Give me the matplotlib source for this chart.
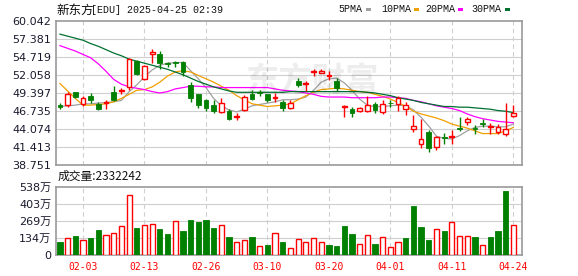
import matplotlib
matplotlib.use("Agg")
import matplotlib.pyplot as plt
from matplotlib.patches import Rectangle
import numpy as np

# ---------------- data ----------------
dates = ["01-29", "01-30", "01-31",
         "02-03", "02-04", "02-05", "02-06", "02-07", "02-10", "02-11", "02-12", "02-13", "02-14",
         "02-18", "02-19", "02-20", "02-21", "02-24", "02-25", "02-26", "02-27", "02-28",
         "03-03", "03-04", "03-05", "03-06", "03-07", "03-10", "03-11", "03-12", "03-13", "03-14",
         "03-17", "03-18", "03-19", "03-20", "03-21", "03-24", "03-25", "03-26", "03-27", "03-28", "03-31",
         "04-01", "04-02", "04-03", "04-04", "04-07", "04-08", "04-09", "04-10", "04-11",
         "04-14", "04-15", "04-16", "04-17", "04-21", "04-22", "04-23", "04-24"]
tick_labels = ["02-03", "02-13", "02-26", "03-10", "03-20", "04-01", "04-11", "04-24"]

opens = [47.6, 47.6, 49.5, 47.8, 48.9, 47.8, 47.9, 49.5, 49.7, 50.3,
         54.2, 51.4, 55.2, 55.2, 53.85, 53.95, 54.0, 50.6, 49.2, 48.3,
         47.6, 46.6, 46.8, 45.9, 46.9, 49.3, 49.5, 49.2, 48.7, 48.0,
         47.2, 51.1, 50.7, 52.5, 52.35, 51.9, 51.1, 47.3, 47.1, 46.7,
         46.7, 47.7, 46.6, 47.95, 47.8, 47.0, 44.0, 41.9, 43.7, 41.4,
         42.85, 42.95, 44.2, 45.1, 44.15, 44.95, 44.3, 43.6, 43.4, 46.0]
highs = [47.9, 49.6, 49.6, 49.0, 49.4, 48.1, 48.3, 50.5, 50.2, 54.6,
         54.3, 53.5, 55.9, 55.6, 54.0, 54.1, 54.1, 51.0, 49.2, 48.5,
         48.3, 48.6, 47.1, 46.4, 49.1, 49.8, 49.9, 49.2, 49.4, 48.4,
         48.3, 51.6, 51.2, 53.0, 52.9, 52.7, 51.6, 47.55, 47.3, 47.4,
         48.9, 48.0, 48.3, 48.4, 48.9, 48.0, 46.1, 45.5, 43.9, 43.1,
         43.5, 43.9, 45.9, 45.9, 44.7, 45.5, 45.0, 44.8, 47.9, 47.6]
lows = [47.0, 47.4, 48.6, 47.5, 47.9, 46.9, 47.0, 48.2, 49.3, 49.8,
        52.0, 51.3, 53.8, 52.9, 53.2, 53.2, 51.9, 48.1, 47.2, 46.8,
        46.5, 46.4, 45.4, 45.4, 46.7, 48.4, 48.9, 48.1, 48.0, 46.8,
        47.1, 50.3, 49.7, 51.9, 52.3, 51.3, 49.7, 45.8, 45.9, 46.6,
        46.6, 46.4, 46.3, 47.4, 46.7, 46.1, 43.6, 41.3, 40.7, 40.9,
        41.9, 41.8, 43.8, 44.6, 43.4, 44.4, 43.4, 43.4, 43.0, 45.9]
closes = [47.35, 49.3, 48.8, 48.7, 48.3, 47.1, 48.0, 48.3, 49.85, 54.4,
          52.2, 53.4, 55.4, 53.9, 53.75, 53.85, 52.5, 48.7, 47.6, 47.2,
          46.7, 47.9, 45.6, 46.0, 48.8, 48.5, 49.4, 48.3, 48.8, 47.2,
          47.9, 50.6, 50.9, 52.65, 52.6, 52.0, 50.1, 47.45, 46.5, 47.2,
          47.6, 46.9, 47.7, 47.85, 48.6, 47.6, 44.5, 42.6, 41.2, 42.9,
          42.75, 43.05, 44.1, 45.5, 44.05, 44.85, 44.45, 44.4, 44.0, 46.4]

ma5 = [47.4, 47.5, 47.6, 47.8, 47.8, 47.9, 48.0, 48.1, 48.3, 49.6,
       50.6, 51.8, 52.8, 53.5, 53.8, 53.9, 53.9, 52.7, 51.5, 50.2,
       48.6, 47.5, 46.9, 46.6, 47.0, 47.5, 47.7, 47.9, 48.1, 48.4,
       48.4, 48.5, 48.8, 49.8, 51.0, 51.5, 51.6, 50.9, 49.8, 48.5,
       47.6, 47.4, 47.4, 47.5, 47.6, 47.5, 46.9, 45.8, 44.5, 43.0,
       42.7, 42.6, 43.1, 43.8, 44.3, 44.5, 44.5, 44.4, 44.4, 44.8]
ma10 = [50.8, 49.7, 48.6, 47.6, 47.6, 47.7, 47.8, 48.1, 48.6, 49.2,
        49.8, 49.9, 50.3, 51.0, 51.9, 52.5, 52.7, 52.5, 52.0, 51.5,
        51.0, 50.4, 49.8, 49.0, 48.4, 47.8, 47.6, 47.4, 47.5, 47.6,
        47.8, 48.4, 49.0, 49.5, 49.9, 50.0, 50.1, 50.0, 49.8, 49.6,
        49.5, 49.2, 48.9, 48.5, 48.0, 47.4, 46.7, 46.3, 46.0, 45.7,
        45.3, 44.8, 44.5, 44.2, 43.8, 43.4, 43.4, 43.4, 43.8, 44.3]
ma20 = [56.4, 56.0, 55.6, 55.1, 54.6, 53.7, 52.6, 51.4, 50.7, 50.3,
        50.1, 49.9, 49.6, 49.4, 49.6, 50.0, 50.2, 50.4, 50.4, 50.3,
        50.3, 50.2, 50.2, 50.2, 50.2, 50.2, 50.2, 50.2, 50.0, 49.8,
        49.7, 49.6, 49.4, 49.2, 48.9, 48.8, 48.8, 48.8, 48.7, 48.7,
        48.7, 48.7, 48.8, 48.8, 48.7, 48.6, 48.3, 48.1, 47.8, 47.5,
        47.3, 47.1, 46.8, 46.3, 45.9, 45.6, 45.4, 45.2, 45.1, 45.0]
ma30 = [58.1, 57.8, 57.5, 57.2, 56.7, 56.3, 55.8, 55.3, 54.9, 54.4,
        54.1, 53.8, 53.5, 53.2, 52.9, 52.5, 52.1, 51.6, 51.1, 50.7,
        50.3, 50.0, 49.7, 49.5, 49.5, 49.5, 49.5, 49.5, 49.5, 49.5,
        49.6, 49.6, 49.6, 49.6, 49.6, 49.6, 49.6, 49.6, 49.6, 49.6,
        49.5, 49.4, 49.2, 49.0, 48.7, 48.5, 48.3, 48.0, 47.8, 47.6,
        47.4, 47.4, 47.3, 47.3, 47.2, 47.1, 47.0, 46.8, 46.7, 46.5]

volumes_wan = [100, 131, 150, 115, 134, 197, 155, 171, 226, 470,
               213, 234, 241, 205, 165, 265, 189, 276, 260, 276,
               213, 234, 142, 100, 115, 142, 71, 79, 171, 100,
               52, 123, 100, 131, 100, 79, 71, 228, 165, 84,
               155, 87, 139, 60, 100, 134, 386, 220, 118, 202,
               186, 257, 147, 147, 142, 76, 142, 186, 504, 234]
# 1 = volume drawn red (up vs previous close), 0 = green
volume_up = [0, 1, 0, 1, 0, 0, 1, 1, 1, 1,
             0, 1, 1, 0, 0, 1, 0, 0, 0, 0,
             0, 1, 0, 1, 1, 0, 1, 0, 1, 0,
             1, 1, 1, 1, 1, 0, 0, 0, 0, 1,
             1, 0, 1, 1, 1, 0, 0, 0, 0, 1,
             0, 1, 1, 1, 0, 1, 0, 0, 0, 1]

price_ticks = [38.751, 41.413, 44.074, 46.735, 49.397, 52.058, 54.719, 57.381, 60.042]
vol_ticks_wan = [0, 134, 269, 403, 538]
vol_tick_labels = ["0", "134万", "269万", "403万", "538万"]
ma_names = ["5PMA", "10PMA", "20PMA", "30PMA"]

# ---------------- styling ----------------
RED = "#ff0000"
GREEN = "#008000"
MA_COLORS = ["#a0a0a0", "#f0a000", "#ff00ff", "#007030"]
GRID = "#cfcfcf"
SPINE = "#999999"

W, H = 578, 276
fig = plt.figure(figsize=(W / 100, H / 100), dpi=100)
fig.patch.set_facecolor("white")

L, R = 55.5, 522
ax = fig.add_axes([L / W, 1 - 165 / H, (R - L) / W, 144 / H])
axv = fig.add_axes([L / W, 1 - 255 / H, (R - L) / W, 68.3 / H])

x = np.arange(len(dates))
tick_pos = [dates.index(t) for t in tick_labels]
xlim = (-0.58, 60.13)

# ---------- price axes ----------
ax.set_xlim(*xlim)
ax.set_ylim(price_ticks[0], price_ticks[-1])
ax.set_yticks(price_ticks)
ax.set_yticklabels([f"{t:.3f}" for t in price_ticks], fontsize=8, color="#1a1a2e",
                   family="DejaVu Sans")
ax.set_xticks(tick_pos)
ax.set_xticklabels([])
ax.tick_params(axis="both", length=0, pad=3)
for t in price_ticks[1:-1]:
    ax.axhline(t, color=GRID, lw=0.8, zorder=0)
for p in tick_pos:
    ax.axvline(p, color=GRID, lw=0.8, ls=(0, (4, 3)), zorder=0)
for s in ax.spines.values():
    s.set_color(SPINE)
    s.set_linewidth(1.2)

# watermark
fig.text(312 / W, 1 - 82 / H, "东方财富", fontsize=24, color="#000000", alpha=0.07,
         ha="center", va="center", family=["Noto Sans CJK SC"], style="italic",
         fontweight="bold")

# MA lines
for vals, c in zip([ma5, ma10, ma20, ma30], MA_COLORS):
    ax.plot(x, vals, color=c, lw=0.9, zorder=2)

# candles
bw = 0.62
for i in range(len(x)):
    o, h, l, c = opens[i], highs[i], lows[i], closes[i]
    up = c >= o
    col = RED if up else GREEN
    lo_b, hi_b = min(o, c), max(o, c)
    ax.vlines(x[i], l, lo_b, color=col, lw=1.0, zorder=3)
    ax.vlines(x[i], hi_b, h, color=col, lw=1.0, zorder=3)
    body = max(hi_b - lo_b, 0.07)
    if up:
        ax.bar(x[i], body, bottom=lo_b, width=bw, facecolor="white", edgecolor=col,
               linewidth=1.0, zorder=4)
    else:
        ax.bar(x[i], body, bottom=lo_b, width=bw, facecolor=col, edgecolor=col,
               linewidth=0.6, zorder=4)

# ---------- volume axes ----------
axv.set_xlim(*xlim)
axv.set_ylim(0, 538)
axv.set_yticks(vol_ticks_wan)
axv.set_yticklabels(vol_tick_labels, fontsize=8, color="#1a1a2e",
                    family=["DejaVu Sans", "Noto Sans CJK SC"])
axv.set_xticks(tick_pos)
axv.set_xticklabels(tick_labels, fontsize=7, color=RED, family="DejaVu Sans Mono")
axv.tick_params(axis="both", length=0)
axv.tick_params(axis="y", pad=3)
axv.tick_params(axis="x", pad=5)
for t in vol_ticks_wan[1:-1]:
    axv.axhline(t, color=GRID, lw=0.8, zorder=0)
for p in tick_pos:
    axv.axvline(p, color=GRID, lw=0.8, ls=(0, (4, 3)), zorder=0)
for s in axv.spines.values():
    s.set_color(SPINE)
    s.set_linewidth(1.2)

vbw = 0.68
for i in range(len(x)):
    if volume_up[i]:
        axv.bar(x[i], volumes_wan[i], width=vbw, facecolor="white", edgecolor=RED,
                linewidth=1.0, zorder=3)
    else:
        axv.bar(x[i], volumes_wan[i], width=vbw, facecolor=GREEN, edgecolor=GREEN,
                linewidth=0.6, zorder=3)

# ---------- texts ----------
fig.text(56 / W, 1 - 10 / H, "新东方", fontsize=9, family=["Noto Sans CJK SC"],
         ha="left", va="center", color="#111111")
fig.text(91 / W, 1 - 10 / H, "[EDU] 2025-04-25 02:39", fontsize=7.2,
         family="Liberation Mono", ha="left", va="center", color="#111111")

fig.text(58 / W, 1 - 176 / H, "成交量:" + "2332242", fontsize=8.5,
         family=["Noto Sans CJK SC"], ha="left", va="center", color="#111111")

legend_x = [338, 381, 425, 471]
for name, c, lx in zip(ma_names, MA_COLORS, legend_x):
    t = fig.text(lx / W, 1 - 9.5 / H, name, fontsize=7.2, family="Liberation Mono",
                 ha="left", va="center", color="#111111")
lx_sq = [366, 414, 458, 505]
for c, sx in zip(MA_COLORS, lx_sq):
    fig.add_artist(Rectangle((sx / W, 1 - 11 / H), 5 / W, 3 / H, transform=fig.transFigure,
                             facecolor=c, edgecolor="none"))

fig.savefig("out.png", dpi=100, facecolor="white")
